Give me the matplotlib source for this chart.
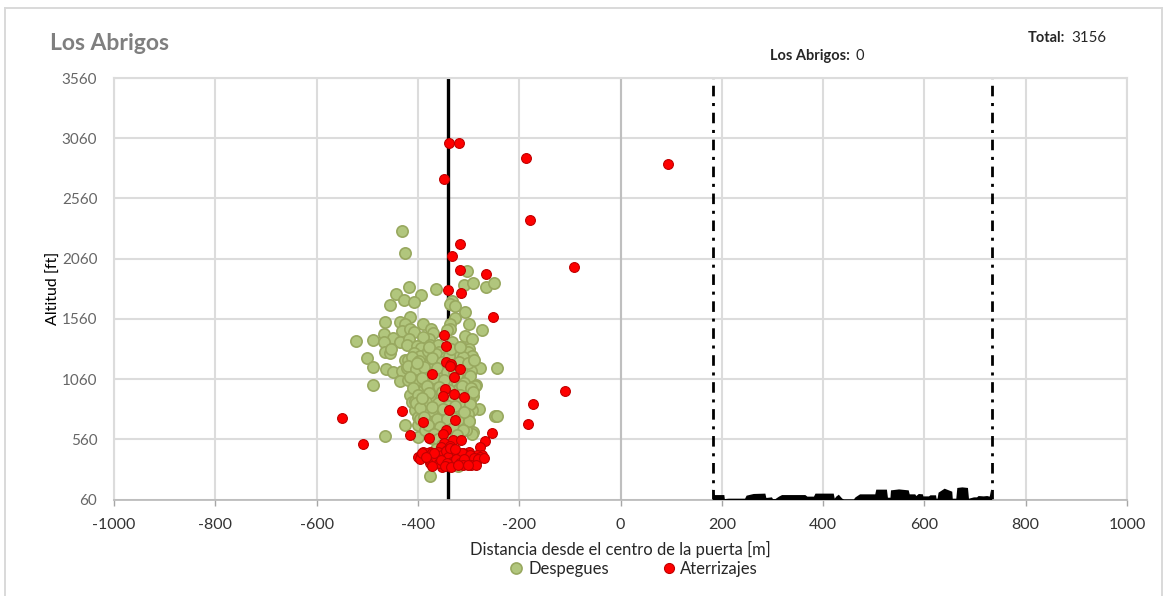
# plot.py
# Los Abrigos - altitude vs distance from the gate centre

import matplotlib
matplotlib.use("Agg")
import matplotlib.pyplot as plt
from matplotlib.lines import Line2D

plt.rcParams['font.family'] = ['Lato', 'DejaVu Sans']
plt.rcParams['axes.unicode_minus'] = False

# takeoffs
desp_x = [-418, -364, -308, -291, -266, -249, -443, -393, -428, -408, -455, -333, -337, -327, -307, -327,
          -416, -465, -435, -425, -389, -337, -300, -273, -431, -416, -408, -375, -370, -337, -343,
          -466, -449, -523, -489, -466, -435, -417, -379, -389, -307, -293, -332, -465, -455, -454,
          -422, -401, -393, -408, -376, -360, -358, -307, -299, -302, -377, -294, -501, -425, -419,
          -406, -383, -356, -323, -304, -294, -488, -462, -449, -431, -422, -402, -379, -360, -300,
          -278, -243, -323, -435, -419, -386, -360, -330, -304, -489, -406, -379, -356, -320, -291,
          -307, -291, -416, -399, -411, -389, -370, -360, -310, -323, -297, -279, -406, -393, -374,
          -356, -314, -294, -248, -243, -399, -376, -363, -346, -304, -425, -399, -291, -293, -325,
          -464, -399, -370, -343, -323, -360, -320, -376, -431, -426, -304,
          -395, -380, -365, -345, -325, -310, -385, -370, -350, -330, -305, -295, -410, -395, -375,
          -355, -335, -315, -300, -285, -405, -385, -365, -345, -325, -305, -395, -375, -355, -335,
          -315, -300, -405, -385, -365, -345, -325, -305, -390, -370, -350, -330, -310, -395, -375,
          -355, -335, -315, -300, -385, -365, -345, -325, -305, -375, -355, -335, -320,
          -412, -398, -372, -352, -338, -318, -302, -290, -420, -403, -388, -362, -342, -328, -312,
          -298, -415, -392, -368, -348, -322, -308, -288, -410, -382, -358, -338, -312, -296, -400,
          -378, -352, -332, -316, -292, -404, -384, -360, -340, -318, -298, -396, -372, -350, -326,
          -302, -388, -362, -342, -320, -300, -380, -356, -330, -310, -368, -346, -322, -360, -338,
          -352, -328, -344, -364, -392, -308, -334, -378, -316, -402]
desp_y = [1827, 1805, 1839, 1855, 1827, 1861, 1764, 1758, 1720, 1698, 1678, 1709, 1687, 1664, 1620, 1568,
          1579, 1537, 1537, 1521, 1521, 1521, 1521, 1465, 1460, 1479, 1452, 1479, 1446, 1479, 1465,
          1432, 1405, 1380, 1388, 1369, 1371, 1396, 1391, 1410, 1421, 1396, 1366, 1288, 1280, 1313,
          1341, 1333, 1319, 1280, 1341, 1341, 1286, 1308, 1313, 1286, 1250, 1250, 1239, 1222, 1222,
          1189, 1217, 1217, 1217, 1208, 1189, 1159, 1142, 1117, 1125, 1156, 1103, 1156, 1150, 1156,
          1153, 1153, 1156, 1042, 1051, 1042, 1078, 1051, 1078, 1009, 1007, 982, 996, 1009, 996,
          1015, 921, 924, 885, 871, 899, 899, 843, 835, 885, 857, 813, 802, 816, 774,
          788, 788, 802, 750, 750, 747, 691, 733, 691, 691, 678, 678, 622, 600, 636,
          586, 581, 581, 581, 553, 526, 340, 258, 2286, 2110, 1955,
          1250, 1290, 1270, 1240, 1280, 1240, 1180, 1150, 1190, 1130, 1170, 1130, 1130, 1090, 1060,
          1100, 1040, 1080, 1040, 1010, 1020, 1000, 980, 1020, 960, 970, 950, 920, 900, 890,
          920, 890, 880, 850, 820, 850, 810, 800, 790, 760, 780, 740, 760, 730, 700,
          690, 660, 680, 710, 640, 620, 600, 620, 640, 570, 560, 540, 590,
          1240, 1210, 1235, 1205, 1250, 1205, 1195, 1215, 1165, 1140, 1160, 1150, 1115, 1120, 1110,
          1085, 1075, 1065, 1070, 1050, 1095, 1030, 1000, 985, 1000, 995, 970, 1005, 985, 930,
          945, 955, 920, 930, 950, 860, 870, 860, 835, 860, 855, 820, 830, 815, 840,
          770, 745, 730, 725, 720, 715, 675, 665, 650, 640, 605, 590, 595, 560, 530,
          510, 530, 480, 480, 905, 790, 1310, 1330, 1330, 1190]

# landings
ater_x = [-341, -315, -251, -349, -344, -344, -335, -337, -316, -372, -329, -346, -350, -329, -308, -339,
          -431, -550, -327, -173, -183, -389, -344, -350, -415, -378, -254, -330, -315, -268, -509,
          -349, -354, -278, -337, -300, -274, -284, -399, -389, -386, -376, -376, -366, -356, -353,
          -363, -343, -339, -327, -320, -304, -305, -297, -289, -314, -339, -339, -346, -330, -383,
          -393, -370, -350, -333, -310, -277, -339, -318, -187, -349, -179, -316, -333, -317, -266,
          94, -92, -110,
          -395, -380, -372, -360, -352, -345, -335, -328, -322, -312, -306, -298, -290, -282, -270,
          -392, -376, -364, -358, -348, -340, -332, -324, -316, -308, -296, -286, -368, -354, -342,
          -336, -326, -310, -372, -346, -334, -320, -302, -384]
ater_y = [1797, 1778, 1579, 1429, 1338, 1203, 1181, 1167, 1142, 1103, 1081, 976, 918, 932, 913, 805,
          799, 736, 719, 849, 691, 700, 636, 606, 595, 573, 614, 551, 551, 542, 523,
          526, 498, 495, 504, 457, 429, 429, 410, 457, 415, 457, 365, 429, 415, 332,
          374, 470, 443, 407, 443, 415, 365, 365, 374, 387, 387, 351, 401, 443, 443,
          429, 387, 443, 470, 443, 415, 3022, 3024, 2897, 2720, 2380, 2181, 2082, 1969, 1933,
          2850, 1988, 960,
          395, 420, 445, 455, 430, 465, 420, 460, 400, 450, 385, 430, 405, 395, 405,
          450, 390, 405, 360, 370, 415, 370, 395, 365, 395, 345, 350, 450, 385, 360,
          490, 480, 350, 340, 340, 330, 345, 345, 415]

# black silhouette along the gate
perfil_x = [181, 185, 204, 205, 213, 245, 248, 262, 285, 287, 298, 300, 305, 312, 318, 364, 368, 381,
            384, 420, 422, 425, 430, 437, 440, 460, 463, 472, 502, 504, 525, 527, 532, 533, 549, 568,
            570, 581, 583, 588, 596, 597, 608, 611, 622, 623, 625, 627, 639, 654, 655, 662, 664, 674,
            685, 687, 697, 703, 706, 716, 723, 728, 731, 733]
perfil_y = [151, 101, 101, 68, 71, 71, 96, 110, 113, 77, 82, 68, 68, 88, 101, 101, 88, 88,
            113, 113, 71, 88, 104, 71, 66, 66, 82, 107, 107, 146, 146, 79, 79, 140, 148, 140,
            107, 107, 93, 110, 107, 90, 90, 99, 99, 71, 71, 121, 154, 129, 71, 71, 160, 165,
            160, 71, 82, 82, 93, 90, 93, 88, 151, 60]

eje_central = -340
limites_puerta = [183, 733]
x_ticks = list(range(-1000, 1001, 200))
y_ticks = list(range(60, 3561, 500))

W, H = 1169, 596
fig = plt.figure(figsize=(W / 100, H / 100), dpi=100)
ax = fig.add_axes([114 / W, 1 - 499.5 / H, (1127 - 114) / W, (499.5 - 78) / H])

ax.set_xlim(-1000, 1000)
ax.set_ylim(60, 3560)
ax.set_xticks(x_ticks)
ax.set_yticks(y_ticks)
ax.grid(True, color='#dcdcdc', lw=1.5, zorder=0)
ax.set_axisbelow(True)
ax.axvline(0, color='#bfbfbf', lw=1.5, zorder=1)

for s in ax.spines.values():
    s.set_color('#dcdcdc')
    s.set_linewidth(1.5)
ax.spines['bottom'].set_color('#b8b8b8')
ax.spines['bottom'].set_linewidth(1.2)
ax.tick_params(axis='x', length=4, width=1.0, color='#a6a6a6', labelsize=11.5, labelcolor='#333333', pad=9)
ax.tick_params(axis='y', length=0, labelsize=11, labelcolor='#666666', pad=12)

ax.axvline(eje_central, color='black', lw=2.4, zorder=2)
for xv in limites_puerta:
    ax.axvline(xv, color='black', lw=2.0, ls=(0, (3.8, 2.4, 1.1, 2.4)), zorder=2)
ax.fill_between(perfil_x, 60, perfil_y, color='black', lw=0, zorder=2.6)

ax.scatter(desp_x, desp_y, s=66, c='#b1c67d', edgecolors='#98a85f', linewidths=1.2, zorder=3, clip_on=False)
ax.scatter(ater_x, ater_y, s=50, c='#fe0000', edgecolors='#c00000', linewidths=0.8, zorder=4, clip_on=False)

ax.set_xlabel("Distancia desde el centro de la puerta [m]", fontsize=11.9, color='#262626', labelpad=6.5)
ax.set_ylabel("Altitud [ft]", fontsize=11.5, color='black', labelpad=1)

fig.text(50 / W, 1 - 44 / H, "Los Abrigos", fontsize=16.5, fontweight='bold', color='#7f7f7f', va='center')
fig.text(770 / W, 1 - 56 / H, "Los Abrigos:", fontsize=10.5, fontweight='bold', color='#262626', va='center')
fig.text(855 / W, 1 - 56 / H, "0", fontsize=10.5, color='#262626', va='center')
fig.text(1028 / W, 1 - 38 / H, "Total:", fontsize=10.5, fontweight='bold', color='#262626', va='center')
fig.text(1071 / W, 1 - 38 / H, "3156", fontsize=10.8, color='#262626', va='center')

# chart frame, open at the bottom
for xs, ys in [((5, 5), (8, 596)), ((5, 1162), (8, 8)), ((1162, 1162), (8, 596))]:
    fig.add_artist(Line2D([v / W for v in xs], [1 - v / H for v in ys], color='#d9d9d9', lw=1.4))

handles = [Line2D([], [], ls='', marker='o', ms=8, mfc='#b1c67d', mec='#98a85f', mew=1.2),
           Line2D([], [], ls='', marker='o', ms=7.2, mfc='#fe0000', mec='#c00000', mew=0.8)]
fig.legend(handles, ["Despegues", "Aterrizajes"], ncol=2, frameon=False, fontsize=12,
           loc='center', bbox_to_anchor=(634 / W, 1 - 569 / H), columnspacing=3.2,
           handlelength=0.8, handletextpad=0.3, labelcolor='#262626')

fig.savefig("out.png", dpi=100)
